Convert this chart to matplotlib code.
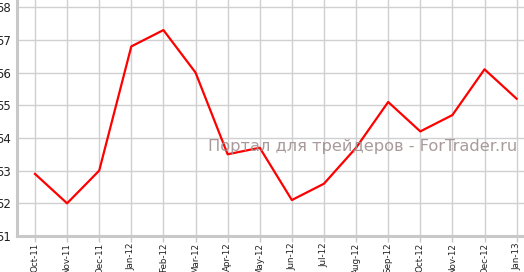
import matplotlib
matplotlib.use("Agg")
import matplotlib.pyplot as plt

# Monthly values
months = ["Oct-11", "Nov-11", "Dec-11", "Jan-12", "Feb-12", "Mar-12", "Apr-12", "May-12",
          "Jun-12", "Jul-12", "Aug-12", "Sep-12", "Oct-12", "Nov-12", "Dec-12", "Jan-13"]
values = [52.9, 52.0, 53.0, 56.8, 57.3, 56.0, 53.5, 53.7,
          52.1, 52.6, 53.7, 55.1, 54.2, 54.7, 56.1, 55.2]
y_ticks = [51, 52, 53, 54, 55, 56, 57, 58]

W, H = 524, 272
fig = plt.figure(figsize=(W / 100, H / 100), dpi=100)
ax = fig.add_axes([17 / W, 36 / H, 1 - 17 / W, 1 - 36 / H])

x = list(range(len(months)))
ax.plot(x, values, color="#ff0000", linewidth=1.6, zorder=3, clip_on=False)

ax.set_xlim(-0.56, 15.23)
ax.set_ylim(51, 58.22)
ax.set_xticks(x)
ax.set_xticklabels(months, rotation=90, fontsize=6.3, color="#222222")
ax.set_yticks(y_ticks)
ax.set_yticklabels([str(v) for v in y_ticks], fontsize=8.5, color="#222222")

ax.grid(True, color="#d0d0d0", linewidth=1.0)
ax.set_axisbelow(True)

for side in ["top", "right"]:
    ax.spines[side].set_visible(False)
for side in ["left", "bottom"]:
    ax.spines[side].set_color("#c8c8c8")
    ax.spines[side].set_linewidth(2.2)

ax.tick_params(axis="x", length=4, width=1, color="#c8c8c8", pad=0.8)
ax.tick_params(axis="y", length=0, pad=4.5)

# watermark
fig.text(208 / W, 1 - 146 / H, "Портал для трейдеров - ForTrader.ru",
         fontsize=11.7, color="#a09090", alpha=0.9, va="center", ha="left", zorder=5)

fig.savefig("out.png", dpi=100)
